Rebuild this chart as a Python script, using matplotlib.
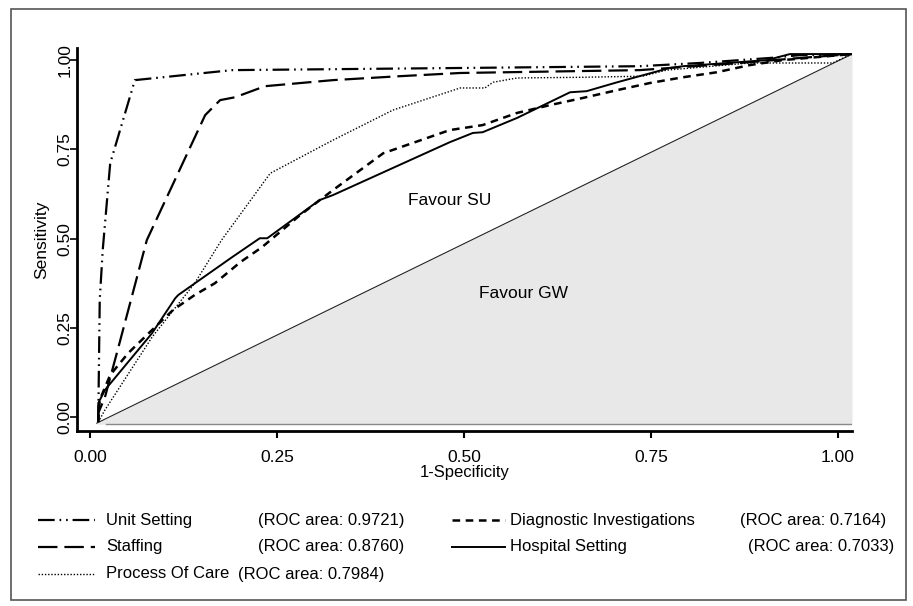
import matplotlib
matplotlib.use("Agg")
import matplotlib.pyplot as plt
from matplotlib.lines import Line2D
from matplotlib.patches import Rectangle

plt.rcParams['lines.scale_dashes'] = False
MAIN = ['Liberation Sans', 'DejaVu Sans']
plt.rcParams['font.family'] = MAIN

# ---------------- data ----------------
series_names = ["Unit Setting", "Staffing", "Process Of Care",
                "Diagnostic Investigations", "Hospital Setting"]
roc_areas = ["0.9721", "0.8760", "0.7984", "0.7164", "0.7033"]

unit_x = [0.011, 0.013, 0.017, 0.027, 0.060, 0.190, 0.495, 0.735, 0.815, 0.909, 0.949, 1.019]
unit_y = [-0.014, 0.328, 0.468, 0.711, 0.944, 0.972, 0.978, 0.983, 0.992, 1.006, 1.014, 1.017]

staff_x = [0.011, 0.011, 0.020, 0.037, 0.076, 0.154, 0.174, 0.194, 0.234, 0.325, 0.414, 0.495, 0.735, 0.869, 0.949, 1.019]
staff_y = [-0.014, 0.011, 0.056, 0.188, 0.496, 0.846, 0.888, 0.896, 0.927, 0.944, 0.955, 0.964, 0.972, 0.992, 1.006, 1.017]

proc_x = [0.011, 0.020, 0.083, 0.140, 0.176, 0.241, 0.325, 0.405, 0.495, 0.521, 0.528, 0.539, 0.571, 0.659, 0.739, 0.771, 0.882, 0.993, 1.019]
proc_y = [-0.014, 0.020, 0.224, 0.375, 0.496, 0.683, 0.776, 0.860, 0.922, 0.922, 0.922, 0.938, 0.950, 0.952, 0.955, 0.972, 0.992, 0.992, 1.017]

diag_x = [0.011, 0.013, 0.027, 0.051, 0.080, 0.111, 0.140, 0.167, 0.201, 0.230, 0.281, 0.325, 0.392, 0.481, 0.525, 0.571, 0.615, 0.659, 0.705, 0.749, 0.793, 0.838, 0.882, 0.926, 1.019]
diag_y = [-0.014, 0.048, 0.118, 0.179, 0.238, 0.300, 0.342, 0.375, 0.434, 0.476, 0.566, 0.636, 0.739, 0.804, 0.818, 0.852, 0.874, 0.894, 0.916, 0.936, 0.952, 0.966, 0.986, 1.000, 1.017]

hosp_x = [0.011, 0.011, 0.020, 0.083, 0.114, 0.118, 0.190, 0.227, 0.237, 0.307, 0.325, 0.481, 0.512, 0.525, 0.571, 0.642, 0.664, 0.705, 0.775, 0.793, 0.905, 0.936, 1.019]
hosp_y = [-0.014, 0.039, 0.076, 0.235, 0.333, 0.342, 0.448, 0.501, 0.501, 0.608, 0.622, 0.770, 0.796, 0.798, 0.838, 0.910, 0.913, 0.938, 0.978, 0.983, 1.000, 1.017, 1.017]

ref_x = [0.009, 1.019]
ref_y = [-0.017, 1.017]
fill_base = -0.020

tick_vals = [0.0, 0.25, 0.5, 0.75, 1.0]
tick_labels = ["0.00", "0.25", "0.50", "0.75", "1.00"]

# ---------------- styles ----------------
styles = {
    "Unit Setting": dict(color='black', lw=1.6, dashes=(12, 3.5, 1.2, 3.5, 1.2, 3.5)),
    "Staffing": dict(color='black', lw=1.6, dashes=(14, 5)),
    "Process Of Care": dict(color='black', lw=1.0, dashes=(1.0, 1.3)),
    "Diagnostic Investigations": dict(color='black', lw=1.8, dashes=(5.5, 4)),
    "Hospital Setting": dict(color='black', lw=1.4, linestyle='-'),
}
data = {
    "Unit Setting": (unit_x, unit_y),
    "Staffing": (staff_x, staff_y),
    "Process Of Care": (proc_x, proc_y),
    "Diagnostic Investigations": (diag_x, diag_y),
    "Hospital Setting": (hosp_x, hosp_y),
}

W, H = 913, 606
fig = plt.figure(figsize=(W / 100, H / 100), dpi=100)

L, R, T, B = 77, 852, 48, 431
ax = fig.add_axes([L / W, 1 - B / H, (R - L) / W, (B - T) / H])
ax.set_xlim(-0.0174, 1.019)
ax.set_ylim(-0.039, 1.034)

# shaded region under the reference line
ax.fill_between(ref_x, [fill_base, fill_base], ref_y, color='#e8e8e8', lw=0, zorder=1)
ax.plot([ref_x[0] + 0.012, ref_x[1]], [fill_base, fill_base], color='#888888', lw=1.0, zorder=2)
ax.plot(ref_x, ref_y, color='#222222', lw=0.8, zorder=3)

for name in series_names:
    x, y = data[name]
    ax.plot(x, y, zorder=4, solid_capstyle='butt', dash_capstyle='butt', **styles[name])

ax.text(0.481, 0.608, "Favour SU", fontsize=12.5, ha='center', va='center')
ax.text(0.580, 0.347, "Favour GW", fontsize=12.5, ha='center', va='center')

for s in ['top', 'right']:
    ax.spines[s].set_visible(False)
for s in ['left', 'bottom']:
    ax.spines[s].set_linewidth(2.0)

ax.set_xticks(tick_vals)
ax.set_xticklabels(tick_labels, fontsize=12.5)
ax.set_yticks(tick_vals)
ax.set_yticklabels(tick_labels, fontsize=12.5, rotation=90, va='center')
ax.tick_params(axis='x', length=5, width=1.5, pad=9)
ax.tick_params(axis='y', length=5, width=1.2, pad=-2)
ax.set_xlabel("1-Specificity", fontsize=12, labelpad=0)
ax.set_ylabel("Sensitivity", fontsize=12.5, labelpad=6)

# ---------------- legend (Stata style) ----------------
row_y = [520, 547, 574]
layout = [  # (series, column, row)
    ("Unit Setting", 0, 0), ("Staffing", 0, 1), ("Process Of Care", 0, 2),
    ("Diagnostic Investigations", 1, 0), ("Hospital Setting", 1, 1),
]
samp_x = [(38, 95), (452, 505)]
name_x = [106, 510]
area_x = {"Unit Setting": 258, "Staffing": 258, "Process Of Care": 238,
          "Diagnostic Investigations": 740, "Hospital Setting": 748}
for name, col, row in layout:
    yy = 1 - row_y[row] / H
    x0, x1 = samp_x[col]
    st = dict(styles[name])
    fig.add_artist(Line2D([x0 / W, x1 / W], [yy, yy], transform=fig.transFigure, **st))
    fig.text(name_x[col] / W, yy, name, fontsize=12, ha='left', va='center')
    idx = series_names.index(name)
    fig.text(area_x[name] / W, yy, f"(ROC area: {roc_areas[idx]})", fontsize=12,
             ha='left', va='center')

# outer frame
fig.add_artist(Rectangle((11 / W, 1 - 600 / H), (906 - 11) / W, (600 - 9) / H,
                         transform=fig.transFigure, fill=False, edgecolor='#555555', lw=1.2))

fig.savefig("out.png", dpi=100)
